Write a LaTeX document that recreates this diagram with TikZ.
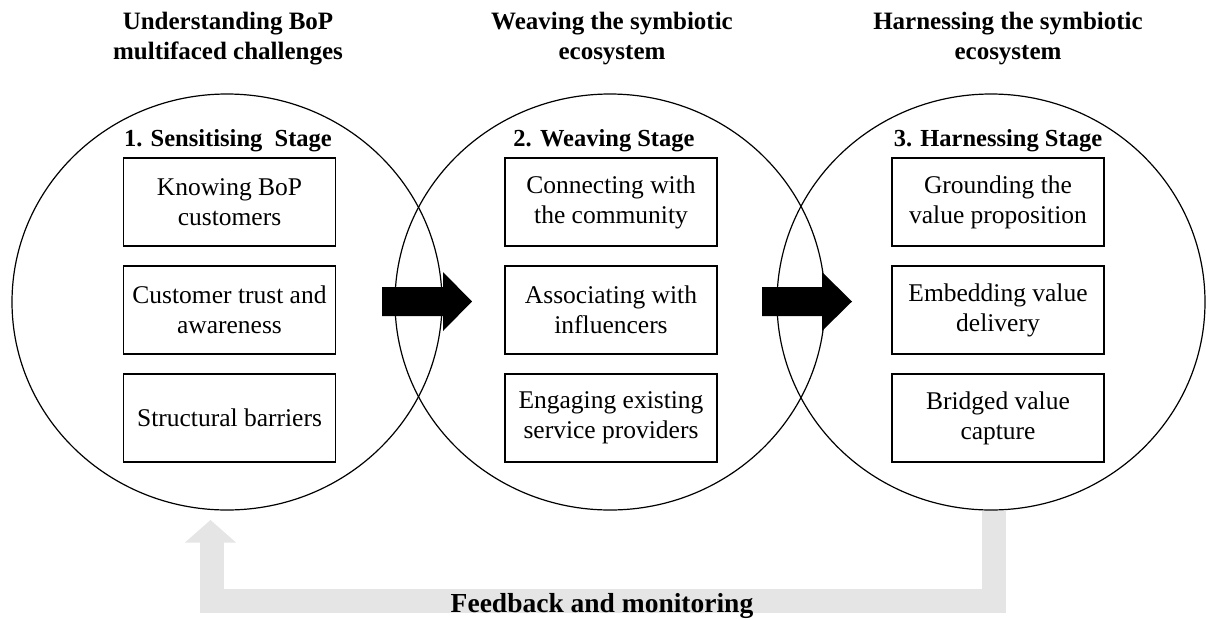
\documentclass[tikz,border=0pt]{standalone}
\usepackage{fontspec}
\setmainfont{Liberation Serif}
\definecolor{fbgray}{RGB}{229,229,229}
\tikzset{
  stagecircle/.style={draw=black, line width=1.2pt},
  stepbox/.style={draw=black, line width=1.2pt, rectangle, minimum width=212pt, minimum height=88pt, inner sep=0pt, align=center, font=\fontsize{25.5}{30}\selectfont},
  headtext/.style={anchor=base, inner sep=0pt, font=\bfseries\fontsize{25}{30}\selectfont},
  stagetitle/.style={anchor=base, inner sep=0pt, font=\bfseries\fontsize{24.5}{29}\selectfont},
  blockarrow/.style={fill=black},
  fbpath/.style={draw=fbgray, line width=23.5pt}
}
\begin{document}
\begin{tikzpicture}[x=1pt, y=-1pt]
\useasboundingbox (0,0) rectangle (1206,619);

% feedback loop (behind)
\coordinate (fbstart) at (994,511);
\coordinate (fbbr) at (994,601);
\coordinate (fbbl) at (212,601);
\coordinate (fbhead) at (212,542);
\draw[fbpath, line join=miter] (fbstart) -- (fbbr) -- (fbbl) -- (fbhead);
\fill[fbgray] (185,542.5) -- (210.5,520) -- (236,542.5) -- cycle;
\node[anchor=base, inner sep=0pt, font=\bfseries\fontsize{27.5}{32}\selectfont] (fb) at (602,612) {Feedback and monitoring};

% stage circles
\draw[stagecircle] (227,302) ellipse [x radius=215, y radius=208];
\draw[stagecircle] (610,302) ellipse [x radius=215, y radius=208];
\draw[stagecircle] (991,302) ellipse [x radius=214, y radius=208];

% headers
\node[headtext] (h1a) at (228,29) {Understanding BoP};
\node[headtext] (h1b) at (228,59) {multifaced challenges};
\node[headtext] (h2a) at (612,29) {Weaving the symbiotic};
\node[headtext] (h2b) at (612,59) {ecosystem};
\node[headtext] (h3a) at (1008,29) {Harnessing the symbiotic};
\node[headtext] (h3b) at (1008,59) {ecosystem};

% stage titles
\node[stagetitle] (t1) at (228,146) {1. Sensitising\ \ Stage};
\node[stagetitle] (t2) at (604,146) {2. Weaving Stage};
\node[stagetitle] (t3) at (998,146) {3. Harnessing Stage};

% boxes
\node[stepbox] (a1) at (229.5,202) {Knowing BoP\\customers};
\node[stepbox] (a2) at (229.5,310) {Customer trust and\\awareness};
\node[stepbox] (a3) at (229.5,418) {Structural barriers};

\node[stepbox] (b1) at (611,202) {Connecting with\\the community};
\node[stepbox] (b2) at (611,310) {Associating with\\influencers};
\node[stepbox] (b3) at (611,418) {Engaging existing\\service providers};

\node[stepbox] (c1) at (998,202) {Grounding the\\value proposition};
\node[stepbox] (c2) at (998,310) {Embedding value\\delivery};
\node[stepbox] (c3) at (998,418) {Bridged value\\capture};

% block arrows
\fill[blockarrow] (382,287) -- (443,287) -- (443,272) -- (472,301.5) -- (443,331) -- (443,316) -- (382,316) -- cycle;
\fill[blockarrow] (762,287) -- (822,287) -- (822,272) -- (852,301.5) -- (822,331) -- (822,316) -- (762,316) -- cycle;
\end{tikzpicture}
\end{document}
